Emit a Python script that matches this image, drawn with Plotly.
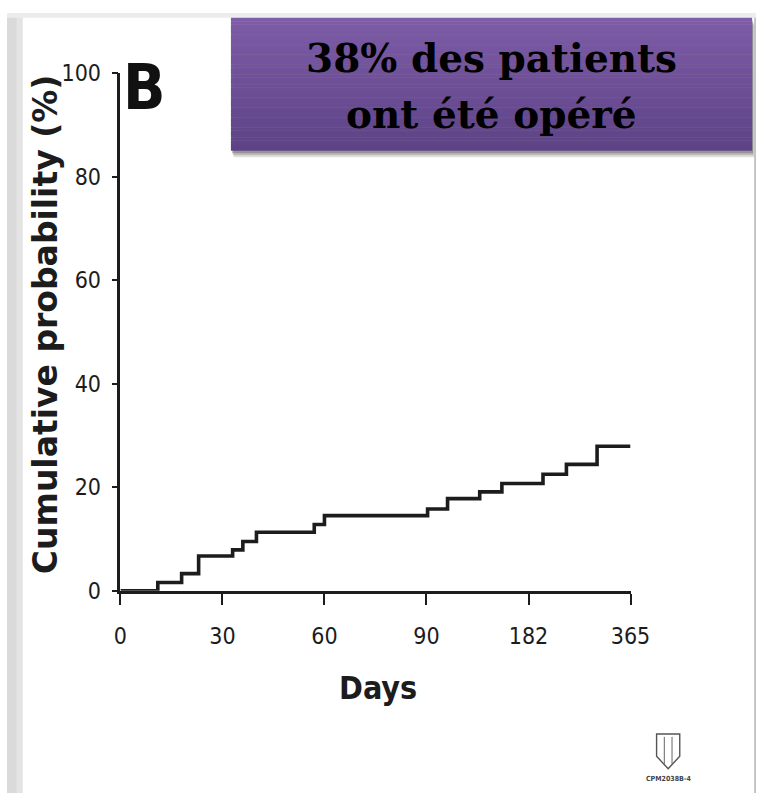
import numpy as np
import plotly.graph_objects as go

# ---- data -------------------------------------------------------------
tick_days = [0, 30, 60, 90, 182, 365]
tick_labels = ["0", "30", "60", "90", "182", "365"]
y_ticks = [0, 20, 40, 60, 80, 100]

# Kaplan-Meier style cumulative probability of surgery (%)
event_days = [0, 11, 18, 23, 33, 36, 40, 57, 60, 91, 109, 138, 158, 208, 250, 305, 365]
cum_prob = [0, 1.6, 3.3, 6.7, 7.9, 9.5, 11.3, 12.8, 14.5, 15.8, 17.8, 19.1, 20.7,
            22.5, 24.4, 27.9, 27.9]

# ---- canvas helpers ---------------------------------------------------
W, H = 776, 806


def fx(px):
    return px / W


def fy(py):
    return 1 - py / H


# the time axis is piecewise: equal spacing between the labelled days
tick_pos = list(range(len(tick_days)))
x_pos = np.interp(event_days, tick_days, tick_pos)

INK = "#1c1c1c"
NARROW = "DejaVu Sans Condensed, Liberation Sans Narrow, Arial Narrow, Liberation Sans, sans-serif"

fig = go.Figure()
fig.add_trace(go.Scatter(
    x=x_pos, y=cum_prob, mode="lines",
    line=dict(shape="hv", color=INK, width=3.6),
    cliponaxis=False, hoverinfo="skip", showlegend=False,
))

shapes = []
# slide background edges
shapes.append(dict(type="rect", xref="paper", yref="paper",
                   x0=0, x1=fx(16), y0=0, y1=1,
                   fillcolor="#dadada", line_width=0, layer="below"))
shapes.append(dict(type="rect", xref="paper", yref="paper",
                   x0=fx(10), x1=fx(16), y0=0, y1=1,
                   fillcolor="#e4e4e4", line_width=0, layer="below"))
shapes.append(dict(type="rect", xref="paper", yref="paper",
                   x0=0, x1=1, y0=fy(5), y1=1,
                   fillcolor="#ececec", line_width=0, layer="below"))
shapes.append(dict(type="line", xref="paper", yref="paper",
                   x0=fx(775), x1=fx(775), y0=0, y1=fy(5),
                   line=dict(color="#a0a0a0", width=1.2), layer="below"))

# callout box: soft shadow then a vertical purple gradient
for off, op in [(7, 0.18), (5, 0.25), (3, 0.35)]:
    shapes.append(dict(type="rect", xref="paper", yref="paper",
                       x0=fx(232 + off * 0.4), x1=fx(772 + off * 0.3),
                       y0=fy(142 + off), y1=fy(5 + off),
                       fillcolor=f"rgba(80,80,80,{op})", line_width=0, layer="above"))
top_rgb = np.array([0x7e, 0x5c, 0xa8])
bot_rgb = np.array([0x5d, 0x43, 0x86])
n_strips = 40
y_top, y_bot = 5, 142
for i in range(n_strips):
    t = (i + 0.5) / n_strips
    c = (top_rgb * (1 - t) + bot_rgb * t).round().astype(int)
    ya = y_top + (y_bot - y_top) * i / n_strips
    yb = y_top + (y_bot - y_top) * (i + 1) / n_strips
    shapes.append(dict(type="rect", xref="paper", yref="paper",
                       x0=fx(232), x1=fx(772), y0=fy(yb + 0.3), y1=fy(ya),
                       fillcolor=f"rgb({c[0]},{c[1]},{c[2]})", line_width=0, layer="above"))

# small crest in the bottom-right corner
def path_from(points):
    parts = []
    for k, (px, py) in enumerate(points):
        parts.append(("M" if k == 0 else "L") + f"{fx(px):.5f},{fy(py):.5f}")
    return " ".join(parts) + " Z"


shield = [(673, 745), (697, 745), (697, 768), (685, 781), (673, 768)]
shapes.append(dict(type="path", xref="paper", yref="paper", path=path_from(shield),
                   line=dict(color="#555555", width=1.4), fillcolor="rgba(0,0,0,0)"))
shapes.append(dict(type="line", xref="paper", yref="paper",
                   x0=fx(681), x1=fx(681), y0=fy(776), y1=fy(748),
                   line=dict(color="#666666", width=1)))
shapes.append(dict(type="line", xref="paper", yref="paper",
                   x0=fx(689), x1=fx(689), y0=fy(776), y1=fy(748),
                   line=dict(color="#666666", width=1)))

annotations = [
    dict(text="Cumulative probability (%)", x=fx(40), y=fy(322), xref="paper", yref="paper",
         textangle=-90, showarrow=False, xanchor="center", yanchor="middle",
         font=dict(family="DejaVu Sans, Arial, sans-serif", size=33, color=INK, weight="bold")),
    dict(text="Days", x=fx(384), y=fy(698), xref="paper", yref="paper",
         showarrow=False, xanchor="center", yanchor="middle",
         font=dict(family=NARROW, size=32, color=INK, weight="bold")),
    dict(text="B", x=fx(142), y=fy(77), xref="paper", yref="paper",
         showarrow=False, xanchor="center", yanchor="middle",
         font=dict(family=NARROW, size=62, color="#111111", weight="bold")),
    dict(text="38% des patients", x=fx(502), y=fy(47), xref="paper", yref="paper",
         showarrow=False, xanchor="center", yanchor="middle",
         font=dict(family="DejaVu Serif, Liberation Serif, serif", size=39,
                   color="#000000", weight="bold")),
    dict(text="ont été opéré", x=fx(502), y=fy(104), xref="paper", yref="paper",
         showarrow=False, xanchor="center", yanchor="middle",
         font=dict(family="DejaVu Serif, Liberation Serif, serif", size=39,
                   color="#000000", weight="bold")),
    dict(text="CPM2038B-4", x=fx(685), y=fy(792), xref="paper", yref="paper",
         showarrow=False, xanchor="center", yanchor="middle",
         font=dict(family=NARROW, size=7, color="#444444", weight="bold")),
]

fig.update_layout(
    width=W, height=H,
    margin=dict(l=0, r=0, t=0, b=0),
    paper_bgcolor="white", plot_bgcolor="white",
    shapes=shapes, annotations=annotations,
    xaxis=dict(
        domain=[fx(117.5), fx(646)], range=[0, 5],
        tickmode="array", tickvals=tick_pos, ticktext=tick_labels,
        showline=True, linecolor=INK, linewidth=2.6,
        ticks="outside", ticklen=11, tickwidth=2.4, tickcolor=INK,
        showgrid=False, zeroline=False, fixedrange=True,
        ticklabelstandoff=12,
        tickfont=dict(family=NARROW, size=23, color=INK),
    ),
    yaxis=dict(
        domain=[fy(597), fy(62)], range=[0, 100],
        tickmode="array", tickvals=y_ticks,
        showline=True, linecolor=INK, linewidth=2.6,
        ticks="outside", ticklen=6, tickwidth=2.4, tickcolor=INK,
        showgrid=False, zeroline=False, fixedrange=True,
        ticklabelstandoff=6,
        tickfont=dict(family=NARROW, size=23, color=INK),
    ),
)

# pin the figure to the top-left corner of the page, without browser margins
page_js = """
document.documentElement.style.margin='0';
document.documentElement.style.padding='0';
document.body.style.margin='0';
document.body.style.padding='0';
document.body.style.overflow='hidden';
var gd=document.getElementsByClassName('plotly-graph-div')[0];
if(gd){gd.style.position='absolute';gd.style.left='0px';gd.style.top='0px';}
"""
fig.write_html("out.html", config={"displayModeBar": False}, post_script=page_js)
